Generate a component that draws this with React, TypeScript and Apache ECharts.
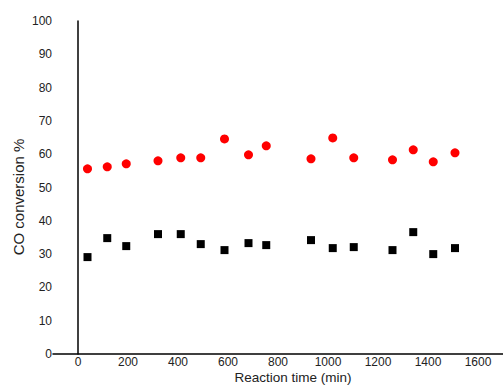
import React, { useEffect, useRef } from "react";
import * as echarts from "echarts";

const times = [38, 117, 193, 320, 411, 491, 586, 682, 753, 932, 1019, 1103, 1258, 1341, 1421, 1508];
const redValues = [55.6, 56.2, 57.1, 58.0, 58.9, 58.9, 64.6, 59.8, 62.5, 58.6, 64.9, 58.9, 58.3, 61.3, 57.7, 60.4];
const blackValues = [29.1, 34.8, 32.4, 36.0, 36.0, 33.0, 31.2, 33.3, 32.7, 34.2, 31.8, 32.1, 31.2, 36.6, 30.0, 31.8];
const xTicks = [0, 200, 400, 600, 800, 1000, 1200, 1400, 1600];
const xTitle = "Reaction time (min)";
const yTitle = "CO conversion %";

export default function App() {
  const ref = useRef<HTMLDivElement>(null);
  useEffect(() => {
    const chart = echarts.init(ref.current!, null, { renderer: "svg" });
    const font = "Liberation Sans, Arial, sans-serif";
    chart.setOption({
      animation: false,
      backgroundColor: "#ffffff",
      grid: { left: 53, right: 0, top: 21, bottom: 34, containLabel: false, outerBoundsMode: "none" },
      graphic: [
        {
          type: "text",
          x: 293,
          y: 377,
          style: { text: xTitle, fontFamily: font, fontSize: 13.5, fill: "#222", align: "center", verticalAlign: "middle" },
        },
        {
          type: "text",
          x: 18,
          y: 197,
          rotation: Math.PI / 2,
          style: { text: yTitle, fontFamily: font, fontSize: 15, fill: "#222", align: "center", verticalAlign: "middle" },
        },
      ],
      xAxis: {
        type: "value",
        min: -100,
        max: 1700,
        interval: 100,
        axisLine: { show: true, onZero: false, lineStyle: { color: "#000", width: 1.5 } },
        axisTick: { show: false },
        splitLine: { show: false },
        axisLabel: {
          fontFamily: font,
          fontSize: 12,
          color: "#222",
          margin: 2,
          formatter: (v: number) => (xTicks.includes(v) ? String(v) : ""),
        },
      },
      yAxis: {
        type: "value",
        min: 0,
        max: 100,
        interval: 10,
        axisLine: { show: true, lineStyle: { color: "#000", width: 1.5 } },
        axisTick: { show: false },
        splitLine: { show: false },
        axisLabel: { fontFamily: font, fontSize: 12, color: "#222", margin: 1 },
      },
      series: [
        {
          type: "scatter",
          data: times.map((t, i) => [t, redValues[i]]),
          symbol: "circle",
          symbolSize: 9,
          itemStyle: { color: "#ff0000", opacity: 1 },
        },
        {
          type: "scatter",
          data: times.map((t, i) => [t, blackValues[i]]),
          symbol: "rect",
          symbolSize: 8,
          itemStyle: { color: "#000000", opacity: 1 },
        },
      ],
    });
    return () => chart.dispose();
  }, []);
  return (
    <div
      ref={ref}
      style={{ position: "absolute", left: 0, top: 0, width: 503, height: 388 }}
    />
  );
}
